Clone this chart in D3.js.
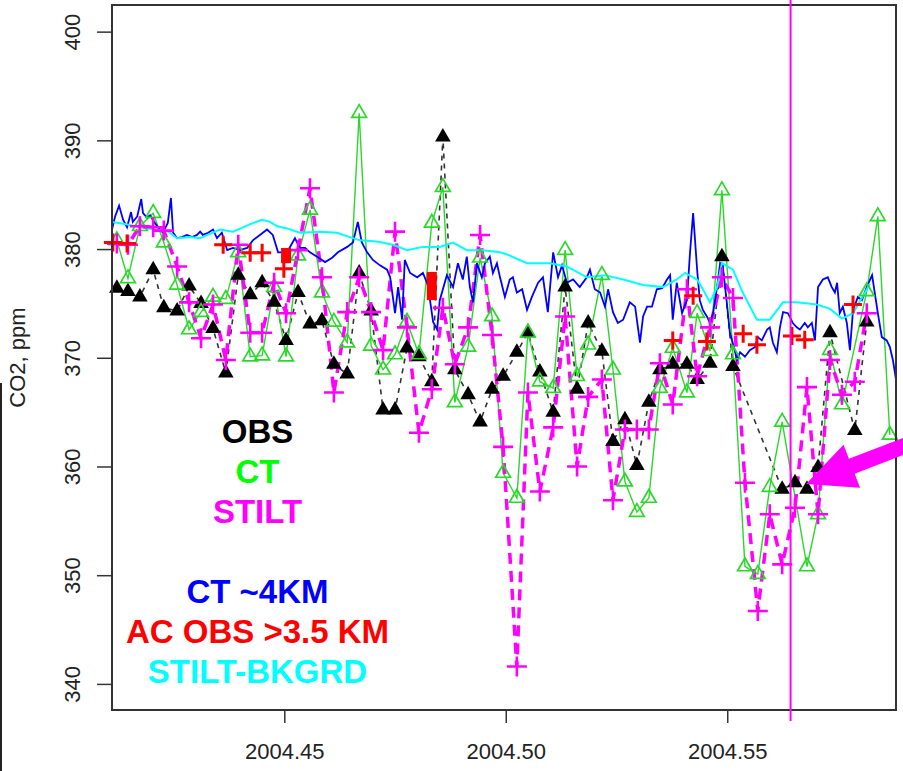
<!DOCTYPE html>
<html>
<head>
<meta charset="utf-8">
<script src="https://cdn.jsdelivr.net/npm/d3@7"></script>
<style>
  body { margin: 0; background: #fff; }
  svg { display: block; font-family: "Liberation Sans", Arial, sans-serif; }
</style>
</head>
<body>
<div id="chart"></div>
<script>
// Daily sampling times (decimal year) shared by OBS, CT and STILT
const dayTime = [
  2004.4122, 2004.4147, 2004.4174, 2004.4204, 2004.4228, 2004.4258, 2004.4285, 2004.4312, 2004.4339, 2004.4368,
  2004.4396, 2004.4423, 2004.4450, 2004.4477, 2004.4504, 2004.4531, 2004.4558, 2004.4585, 2004.4612, 2004.4642,
  2004.4669, 2004.4696, 2004.4723, 2004.4750, 2004.4777, 2004.4804, 2004.4833, 2004.4858, 2004.4885, 2004.4915,
  2004.4942, 2004.4969, 2004.4994, 2004.5025, 2004.5050, 2004.5077, 2004.5107, 2004.5134, 2004.5161, 2004.5186,
  2004.5217, 2004.5242, 2004.5269, 2004.5296, 2004.5323, 2004.5348, 2004.5377, 2004.5409, 2004.5432, 2004.5461,
  2004.5488, 2004.5513, 2004.5540, 2004.5569, 2004.5596, 2004.5624, 2004.5653, 2004.5680, 2004.5705, 2004.5732,
  2004.5759, 2004.5788, 2004.5815, 2004.5840, 2004.5867
];
const obsCO2 = [
  376.4, 376.1, 375.6, 378.1, 374.6, 374.3, 376.6, 375.0, 372.7, 368.6,
  377.6, 375.8, 376.9, 375.1, 371.6, 376.0, 373.1, 373.4, 369.4, 368.5,
  377.8, 374.3, 365.2, 365.2, 370.9, 370.1, 367.8, 390.3, 368.9, 366.6,
  364.1, 367.1, 368.3, 370.5, 372.3, 368.7, 365.0, 376.5, 367.1, 373.2,
  370.6, 362.3, 364.3, 360.1, 365.9, 368.9, 369.4, 369.4, 368.0, 369.5,
  379.3, 369.2, null, null, null, 357.9, 358.5, 357.9, 359.9, 372.3,
  null, 363.3, 373.3, null, null
];
const ctCO2 = [
  380.8, 377.3, 382.1, 383.3, 380.6, 376.7, 372.6, 374.2, 375.6, 375.4,
  379.7, 370.1, 370.2, 376.5, 370.1, 379.4, 383.6, 376.0, 373.3, 371.4,
  392.5, 371.1, 368.9, 370.3, 373.3, 370.3, 382.4, 385.7, 365.9, 371.0,
  379.2, 373.8, 359.4, 357.1, 372.3, 367.8, 367.2, 379.9, 368.3, 371.2,
  377.6, 368.9, 358.6, 355.8, 357.1, 367.2, 370.9, 366.8, 374.1, 370.6,
  385.4, 370.3, 350.8, 350.1, 358.1, 364.1, null, 350.8, 355.6, 370.7,
  365.7, null, 376.1, 383.0, 362.9
];
const stiltCO2 = [
  380.5, 380.4, 382.1, 382.0, 381.7, 378.4, 375.1, 371.8, 374.9, 369.8,
  380.4, 372.3, 372.3, 376.9, 374.1, 379.9, 385.6, 377.4, 366.8, 374.2,
  377.4, 374.2, 370.7, 381.6, 372.8, 363.1, 367.1, 374.6, 369.4, 372.8,
  381.3, 372.1, 361.8, 341.6, 366.8, 357.7, 363.6, 373.8, 360.0, 366.4,
  368.0, 356.9, 363.4, 363.4, 363.4, 369.5, 365.7, 376.3, 368.3, 372.8,
  377.4, 375.5, 358.5, 346.7, 355.6, 351.0, 356.2, 367.3, 355.6, 369.8,
  366.6, 367.8, 374.1, null, null
];

// CT sampled at ~4 km
const ct4kmTime = [
  2004.4111, 2004.4118, 2004.4127, 2004.4136, 2004.4145, 2004.4154, 2004.4158, 2004.4168, 2004.4177, 2004.4181,
  2004.4190, 2004.4197, 2004.4206, 2004.4215, 2004.4226, 2004.4237, 2004.4244, 2004.4249, 2004.4258, 2004.4269,
  2004.4280, 2004.4292, 2004.4303, 2004.4310, 2004.4316, 2004.4328, 2004.4339, 2004.4348, 2004.4359, 2004.4371,
  2004.4384, 2004.4400, 2004.4416, 2004.4429, 2004.4445, 2004.4461, 2004.4474, 2004.4486, 2004.4506, 2004.4524,
  2004.4535, 2004.4547, 2004.4558, 2004.4574, 2004.4592, 2004.4608, 2004.4621, 2004.4642, 2004.4655, 2004.4666,
  2004.4675, 2004.4687, 2004.4700, 2004.4716, 2004.4732, 2004.4739, 2004.4750, 2004.4757, 2004.4766, 2004.4772,
  2004.4784, 2004.4800, 2004.4813, 2004.4824, 2004.4836, 2004.4845, 2004.4851, 2004.4867, 2004.4881, 2004.4892,
  2004.4903, 2004.4912, 2004.4919, 2004.4926, 2004.4935, 2004.4946, 2004.4953, 2004.4964, 2004.4971, 2004.4980,
  2004.4987, 2004.4998, 2004.5009, 2004.5016, 2004.5025, 2004.5037, 2004.5048, 2004.5059, 2004.5073, 2004.5084,
  2004.5095, 2004.5107, 2004.5118, 2004.5127, 2004.5138, 2004.5152, 2004.5167, 2004.5183, 2004.5190, 2004.5201,
  2004.5213, 2004.5224, 2004.5231, 2004.5242, 2004.5253, 2004.5265, 2004.5280, 2004.5292, 2004.5303, 2004.5310,
  2004.5319, 2004.5330, 2004.5341, 2004.5353, 2004.5364, 2004.5371, 2004.5377, 2004.5386, 2004.5398, 2004.5409,
  2004.5416, 2004.5423, 2004.5432, 2004.5438, 2004.5445, 2004.5454, 2004.5461, 2004.5468, 2004.5477, 2004.5484,
  2004.5490, 2004.5499, 2004.5506, 2004.5515, 2004.5522, 2004.5529, 2004.5540, 2004.5551, 2004.5563, 2004.5569,
  2004.5578, 2004.5590, 2004.5596, 2004.5603, 2004.5612, 2004.5619, 2004.5626, 2004.5637, 2004.5648, 2004.5657,
  2004.5664, 2004.5675, 2004.5682, 2004.5691, 2004.5698, 2004.5705, 2004.5716, 2004.5727, 2004.5736, 2004.5743,
  2004.5748, 2004.5754, 2004.5761, 2004.5770, 2004.5777, 2004.5784, 2004.5795, 2004.5804, 2004.5815, 2004.5827,
  2004.5833, 2004.5840, 2004.5849, 2004.5860, 2004.5867, 2004.5874, 2004.5881, 2004.5888
];
const ct4kmCO2 = [
  381.8, 383.0, 384.0, 382.7, 382.0, 383.4, 382.5, 383.0, 384.6, 383.3,
  382.9, 383.1, 382.5, 382.0, 381.5, 382.4, 384.7, 381.5, 381.0, 381.1,
  381.3, 381.1, 381.3, 381.6, 381.3, 381.5, 381.8, 381.0, 381.5, 379.9,
  380.1, 379.9, 380.1, 380.8, 381.3, 381.8, 381.3, 379.7, 379.7, 381.0,
  380.1, 380.1, 379.7, 379.3, 378.8, 379.2, 379.7, 380.2, 380.6, 382.5,
  380.6, 379.7, 379.0, 378.5, 378.1, 377.4, 374.1, 376.5, 373.5, 379.0,
  377.8, 377.4, 377.8, 376.7, 373.3, 372.6, 375.3, 377.6, 376.5, 378.7,
  377.2, 379.3, 376.5, 375.1, 378.7, 377.4, 378.7, 379.3, 377.8, 378.7,
  377.4, 375.6, 377.2, 377.4, 376.0, 376.3, 374.4, 375.6, 376.9, 377.4,
  374.2, 379.7, 377.4, 378.5, 376.9, 377.2, 376.5, 377.4, 378.1, 376.3,
  376.0, 374.7, 376.3, 374.2, 373.2, 373.5, 375.1, 374.7, 371.4, 373.8,
  374.7, 374.7, 376.3, 376.4, 377.2, 377.6, 373.5, 376.9, 374.1, 375.3,
  379.7, 383.3, 378.1, 375.3, 374.4, 373.8, 373.2, 374.1, 376.5, 378.7,
  378.4, 375.1, 372.3, 371.0, 369.8, 370.5, 370.1, 370.7, 371.0, 371.9,
  371.6, 372.6, 372.8, 371.4, 370.5, 372.8, 374.2, 374.1, 373.2, 372.8,
  372.6, 373.2, 372.8, 373.2, 371.6, 376.5, 377.2, 377.4, 376.5, 376.0,
  376.9, 374.1, 374.7, 373.2, 370.7, 374.4, 375.6, 375.3, 376.5, 377.6,
  376.0, 374.1, 371.9, 371.6, 371.0, 369.8, 368.0, 364.3
];

// STILT background
const bkgTime = [
  2004.4111, 2004.4140, 2004.4174, 2004.4208, 2004.4235, 2004.4258, 2004.4287, 2004.4310, 2004.4332, 2004.4355,
  2004.4384, 2004.4407, 2004.4423, 2004.4450, 2004.4468, 2004.4484, 2004.4506, 2004.4535, 2004.4581, 2004.4619,
  2004.4648, 2004.4671, 2004.4709, 2004.4745, 2004.4777, 2004.4813, 2004.4851, 2004.4881, 2004.4912, 2004.4948,
  2004.4987, 2004.5003, 2004.5048, 2004.5100, 2004.5138, 2004.5183, 2004.5224, 2004.5265, 2004.5310, 2004.5355,
  2004.5386, 2004.5405, 2004.5432, 2004.5445, 2004.5461, 2004.5477, 2004.5488, 2004.5513, 2004.5535, 2004.5567,
  2004.5596, 2004.5626, 2004.5657, 2004.5702, 2004.5732, 2004.5759, 2004.5784, 2004.5811, 2004.5822
];
const bkgCO2 = [
  382.5, 382.3, 382.0, 381.8, 381.7, 381.0, 381.1, 381.0, 381.4, 381.8,
  381.6, 382.0, 382.3, 382.7, 382.5, 382.1, 381.9, 381.5, 381.6, 381.5,
  381.1, 380.8, 380.7, 380.4, 379.9, 380.2, 380.2, 380.6, 379.9, 379.9,
  379.7, 379.5, 378.7, 378.7, 378.4, 377.4, 377.6, 377.2, 376.7, 376.5,
  377.2, 377.8, 377.2, 376.3, 375.1, 376.5, 378.7, 378.1, 376.0, 373.5,
  373.5, 375.1, 375.1, 374.9, 374.5, 373.6, 374.1, 376.0, 376.8
];

// aircraft observations above 3.5 km
const acTime = [2004.4113, 2004.4145, 2004.4362, 2004.4423, 2004.4450, 2004.4499, 2004.5377,
                2004.5423, 2004.5454, 2004.5536, 2004.5567, 2004.5646, 2004.5675, 2004.5784];
const acCO2 = [380.6, 380.5, 380.4, 379.65, 379.65, 378.2, 371.6,
               375.7, 371.5, 372.2, 371.2, 372.0, 371.65, 374.9];
// dense aircraft profiles (many overlapping points)
const acProfileTime = [2004.4504, 2004.4833];
const acProfileLow = [378.7, 375.3];
const acProfileHigh = [380.1, 377.9];

const yTicks = [340, 350, 360, 370, 380, 390, 400];
const xTicks = [2004.45, 2004.50, 2004.55];
const legendLabels = ['OBS', 'CT', 'STILT', 'CT ~4KM', 'AC OBS >3.5 KM', 'STILT-BKGRD'];
const legendColors = ['#000000', '#00ff00', '#ff00ff', '#0000ff', '#ff0000', '#00ffff'];

const markTime = 2004.5643;
const arrowTail = [2004.5958, 362.8];
const arrowTip = [2004.5678, 358.4];

// Set up dimensions
const width = 903, height = 771;
const margin = { top: 5, right: 7, bottom: 61, left: 112 };

const svg = d3.select('#chart')
  .append('svg')
  .attr('width', width)
  .attr('height', height);

const x = d3.scaleLinear()
  .domain([2004.4111, 2004.5881])
  .range([margin.left, width - margin.right]);

const y = d3.scaleLinear()
  .domain([337.6, 402.45])
  .range([height - margin.bottom, margin.top]);

svg.append('clipPath').attr('id', 'plot-clip')
  .append('rect')
  .attr('x', margin.left).attr('y', margin.top)
  .attr('width', width - margin.left - margin.right)
  .attr('height', height - margin.top - margin.bottom);

// edge of the neighbouring panel, cut off at the left
svg.append('line')
  .attr('x1', 1).attr('x2', 1)
  .attr('y1', 383).attr('y2', height)
  .attr('stroke', '#222').attr('stroke-width', 2);

// Axes
const yAxis = svg.append('g')
  .attr('transform', `translate(${margin.left},0)`)
  .call(d3.axisLeft(y).tickValues(yTicks).tickSize(15).tickFormat(d3.format('d')));
yAxis.select('.domain').remove();
yAxis.selectAll('.tick line').attr('stroke', '#333').attr('stroke-width', 1.5);
yAxis.selectAll('.tick text')
  .attr('transform', 'rotate(-90)')
  .attr('x', 0).attr('y', -32).attr('dy', 0)
  .attr('text-anchor', 'middle')
  .attr('fill', '#222')
  .style('font-size', '22px')
  .style('font-family', '"Liberation Sans", Arial, sans-serif');

const xAxis = svg.append('g')
  .attr('transform', `translate(0,${height - margin.bottom})`)
  .call(d3.axisBottom(x).tickValues(xTicks).tickSize(13).tickFormat(d3.format('.2f')));
xAxis.select('.domain').remove();
xAxis.selectAll('.tick line').attr('stroke', '#333').attr('stroke-width', 1.5);
xAxis.selectAll('.tick text')
  .attr('y', 49).attr('dy', 0)
  .attr('fill', '#222')
  .style('font-size', '22px')
  .style('font-family', '"Liberation Sans", Arial, sans-serif');

svg.append('text')
  .attr('transform', `translate(25,${(margin.top + height - margin.bottom) / 2}) rotate(-90)`)
  .attr('text-anchor', 'middle')
  .attr('fill', '#222')
  .style('font-size', '22px')
  .text('CO2, ppm');

// Series
const rows = dayTime.map((t, i) => ({ t, obs: obsCO2[i], ct: ctCO2[i], stilt: stiltCO2[i] }));
const plot = svg.append('g').attr('clip-path', 'url(#plot-clip)');

const lineOf = key => d3.line().x(d => x(d.t)).y(d => y(d[key]));
const triangle = r => `M0,${-r}L${r * 0.866},${r / 2}L${-r * 0.866},${r / 2}Z`;

// OBS
const obsRows = rows.filter(d => d.obs !== null);
plot.append('path')
  .datum(obsRows)
  .attr('d', lineOf('obs'))
  .attr('fill', 'none').attr('stroke', '#333').attr('stroke-width', 1.6)
  .attr('stroke-dasharray', '5,5');
svg.append('g').selectAll('path')
  .data(obsRows)
  .join('path')
  .attr('d', triangle(9))
  .attr('transform', d => `translate(${x(d.t)},${y(d.obs)})`)
  .attr('fill', '#000');

// CT
const ctRows = rows.filter(d => d.ct !== null);
plot.append('path')
  .datum(ctRows)
  .attr('d', lineOf('ct'))
  .attr('fill', 'none').attr('stroke', '#2ad82a').attr('stroke-width', 1.4);
svg.append('g').selectAll('path')
  .data(ctRows)
  .join('path')
  .attr('d', triangle(8.5))
  .attr('transform', d => `translate(${x(d.t)},${y(d.ct)})`)
  .attr('fill', 'none').attr('stroke', '#2ad82a').attr('stroke-width', 1.7);

// STILT
const stiltRows = rows.filter(d => d.stilt !== null);
plot.append('path')
  .datum(stiltRows)
  .attr('d', lineOf('stilt'))
  .attr('fill', 'none').attr('stroke', '#ff00ff').attr('stroke-width', 3.5)
  .attr('stroke-dasharray', '11,7');
svg.append('g').selectAll('path')
  .data(stiltRows)
  .join('path')
  .attr('d', 'M-10,0H10M0,-10V10')
  .attr('transform', d => `translate(${x(d.t)},${y(d.stilt)})`)
  .attr('fill', 'none').attr('stroke', '#ff00ff').attr('stroke-width', 2.6);

// CT ~4KM
plot.append('path')
  .datum(ct4kmTime.map((t, i) => ({ t, v: ct4kmCO2[i] })))
  .attr('d', lineOf('v'))
  .attr('fill', 'none').attr('stroke', '#0000ff').attr('stroke-width', 1.8);

// STILT background
plot.append('path')
  .datum(bkgTime.map((t, i) => ({ t, v: bkgCO2[i] })))
  .attr('d', lineOf('v'))
  .attr('fill', 'none').attr('stroke', '#00ffff').attr('stroke-width', 2);

// aircraft
svg.append('g').selectAll('path')
  .data(acTime.map((t, i) => ({ t, v: acCO2[i] })))
  .join('path')
  .attr('d', 'M-9,0H9M0,-9V9')
  .attr('transform', d => `translate(${x(d.t)},${y(d.v)})`)
  .attr('fill', 'none').attr('stroke', '#ff0000').attr('stroke-width', 3);
svg.append('g').selectAll('rect')
  .data(acProfileTime.map((t, i) => ({ t, lo: acProfileLow[i], hi: acProfileHigh[i] })))
  .join('rect')
  .attr('x', d => x(d.t) - 5)
  .attr('y', d => y(d.hi))
  .attr('width', 10)
  .attr('height', d => y(d.lo) - y(d.hi))
  .attr('fill', '#ff0000');

// Plot frame
svg.append('rect')
  .attr('x', margin.left).attr('y', margin.top)
  .attr('width', width - margin.left - margin.right)
  .attr('height', height - margin.top - margin.bottom)
  .attr('fill', 'none').attr('stroke', '#333').attr('stroke-width', 2);

// Legend text
const legend = svg.append('g')
  .attr('text-anchor', 'middle')
  .style('font-weight', 'bold')
  .style('font-size', '33px');
legend.selectAll('text')
  .data(legendLabels)
  .join('text')
  .attr('x', 257.5)
  .attr('y', (d, i) => 443 + i * 40 + (i >= 3 ? 40 : 0))
  .attr('fill', (d, i) => legendColors[i])
  .text(d => d);

// marker line
svg.append('line')
  .attr('x1', x(markTime)).attr('x2', x(markTime))
  .attr('y1', 0).attr('y2', height - margin.bottom + 11)
  .attr('stroke', '#ff00ff').attr('stroke-width', 2);

// arrow
const p0 = [x(arrowTail[0]), y(arrowTail[1])];
const p1 = [x(arrowTip[0]), y(arrowTip[1])];
const len = Math.hypot(p1[0] - p0[0], p1[1] - p0[1]);
const ux = (p1[0] - p0[0]) / len, uy = (p1[1] - p0[1]) / len;
const nx = -uy, ny = ux;
const headLen = 49, headHalf = 23, shaftHalf = 8;
const bx = p1[0] - ux * headLen, by = p1[1] - uy * headLen;
const arrowPts = [
  [p0[0] + nx * shaftHalf, p0[1] + ny * shaftHalf],
  [bx + nx * shaftHalf, by + ny * shaftHalf],
  [bx + nx * headHalf, by + ny * headHalf],
  p1,
  [bx - nx * headHalf, by - ny * headHalf],
  [bx - nx * shaftHalf, by - ny * shaftHalf],
  [p0[0] - nx * shaftHalf, p0[1] - ny * shaftHalf]
];
svg.append('path')
  .attr('d', 'M' + arrowPts.map(p => p.join(',')).join('L') + 'Z')
  .attr('fill', '#ff00ff');
</script>
</body>
</html>
